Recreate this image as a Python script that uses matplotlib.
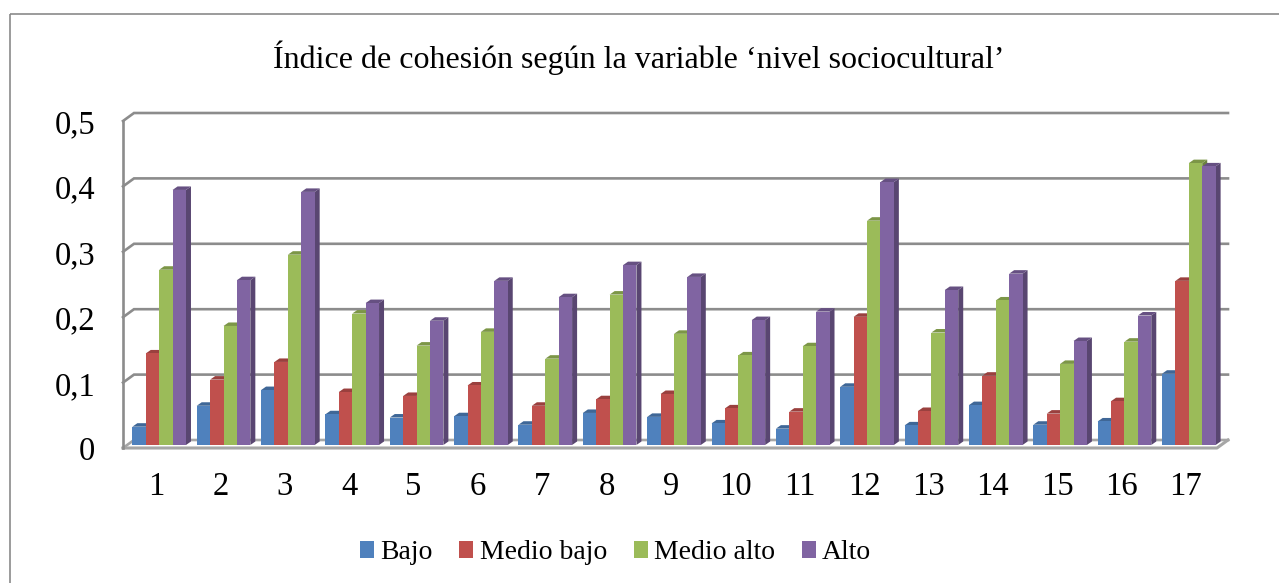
import matplotlib
matplotlib.use("Agg")
import matplotlib.pyplot as plt
from matplotlib.patches import Polygon, Rectangle

categories = [str(i) for i in range(1, 18)]
bajo = [0.028, 0.060, 0.084, 0.047, 0.042, 0.044, 0.031, 0.049, 0.043, 0.033, 0.025, 0.089, 0.030, 0.061, 0.031, 0.036, 0.109]
medio_bajo = [0.140, 0.100, 0.127, 0.081, 0.075, 0.091, 0.060, 0.070, 0.078, 0.056, 0.051, 0.196, 0.052, 0.106, 0.048, 0.067, 0.251]
medio_alto = [0.268, 0.182, 0.291, 0.201, 0.152, 0.173, 0.132, 0.230, 0.170, 0.137, 0.151, 0.343, 0.172, 0.221, 0.124, 0.158, 0.431]
alto = [0.390, 0.252, 0.387, 0.217, 0.190, 0.251, 0.226, 0.275, 0.257, 0.191, 0.204, 0.402, 0.237, 0.262, 0.159, 0.198, 0.426]
series_names = ["Bajo", "Medio bajo", "Medio alto", "Alto"]
y_ticks = [0, 0.1, 0.2, 0.3, 0.4, 0.5]
y_labels = ["0", "0,1", "0,2", "0,3", "0,4", "0,5"]

front_colors = ["#4f81bd", "#c0504d", "#9bbb59", "#8064a2"]
side_colors = ["#375a85", "#863836", "#6c833e", "#594671"]
top_colors = ["#3f6797", "#9a403e", "#7c9647", "#665082"]

W, H = 1279, 583
plt.rcParams["font.family"] = ["Liberation Serif", "DejaVu Serif"]

fig = plt.figure(figsize=(W / 100, H / 100), dpi=100)
bg = fig.add_axes([0, 0, 1, 1])
bg.set_xlim(0, W)
bg.set_ylim(H, 0)
bg.axis("off")
# chart frame, right and bottom edges fall outside the picture
bg.add_patch(Rectangle((9.5, 14), 1300, 620, fill=False, ec="#8a8a8a", lw=1.2))

# bars sit on a plane between the front and back of the fake 3d box
plot_left, plot_right = 127, 1221
plot_bottom, plot_top = 445, 118
ax = fig.add_axes([plot_left / W, 1 - plot_bottom / H,
                   (plot_right - plot_left) / W, (plot_bottom - plot_top) / H])
ax.set_xlim(0.5, 17.5)
ax.set_ylim(0, 0.5)
ax.axis("off")

px_x = 17 / (plot_right - plot_left)
px_y = 0.5 / (plot_bottom - plot_top)

grid_color = "#8c8c8c"
# gridlines on the back wall and their diagonal bit on the side wall
for t in y_ticks:
    x0 = 0.5 - 4 * px_x
    y0 = t - 3 * px_y
    x1 = 0.5 + 7 * px_x
    y1 = t + 5 * px_y
    x2 = 17.5 + 7 * px_x
    ax.plot([x0, x1, x2], [y0, y1, y1], color=grid_color if t > 0 else "#a6a6a6",
            lw=1.9, clip_on=False, zorder=1, solid_joinstyle="miter")
# front floor edge and left axis
floor_y = -3 * px_y
ax.plot([0.5 - 4 * px_x, 17.5 - 4 * px_x, 17.5 + 7 * px_x],
        [floor_y, floor_y, 5 * px_y], color="#a6a6a6", lw=2.2, clip_on=False, zorder=1)
ax.plot([0.5 - 4 * px_x] * 2, [floor_y, 0.5 - 3 * px_y], color=grid_color, lw=1.9,
        clip_on=False, zorder=1)

bar_w = 13.4 * px_x
depth_x = 5 * px_x
depth_y = 3.5 * px_y
all_series = [bajo, medio_bajo, medio_alto, alto]

for s, values in enumerate(all_series):
    for c, v in enumerate(values):
        left = c + 1 + (s - 2) * bar_w
        right = left + bar_w
        ax.add_patch(Polygon([(right, 0), (right + depth_x, depth_y),
                              (right + depth_x, v + depth_y), (right, v)],
                             fc=side_colors[s], ec="none", zorder=2 + s + c * 5, clip_on=False))
        ax.add_patch(Polygon([(left, v), (left + depth_x, v + depth_y),
                              (right + depth_x, v + depth_y), (right, v)],
                             fc=top_colors[s], ec="none", zorder=2 + s + c * 5, clip_on=False))
        ax.bar(left, v, width=bar_w, align="edge", color=front_colors[s],
               zorder=2.5 + s + c * 5, clip_on=False)

for t, lab in zip(y_ticks, y_labels):
    ax.annotate(lab, (0.5, t), xytext=(-32, -7), textcoords="offset pixels",
                ha="right", va="center", fontsize=23.5, color="black", annotation_clip=False)

for c, lab in enumerate(categories):
    ax.annotate(lab, (c + 1, 0), xytext=(-3, -50), textcoords="offset pixels",
                ha="center", va="baseline", fontsize=23.5, color="black", annotation_clip=False)

bg.text(639, 58, "Índice de cohesión según la variable ‘nivel sociocultural’",
        ha="center", va="center", fontsize=23, color="black")

handles = [Rectangle((0, 0), 1, 1, fc=c, ec="none") for c in front_colors]
fig.legend(handles, series_names, loc="center", bbox_to_anchor=(615.5 / W, 1 - 552.5 / H),
           ncol=4, frameon=False, fontsize=20, handlelength=0.5, handleheight=0.58,
           handletextpad=0.23, columnspacing=0.97, borderpad=0, labelcolor="black")

fig.savefig("out.png", dpi=100, facecolor="white")
